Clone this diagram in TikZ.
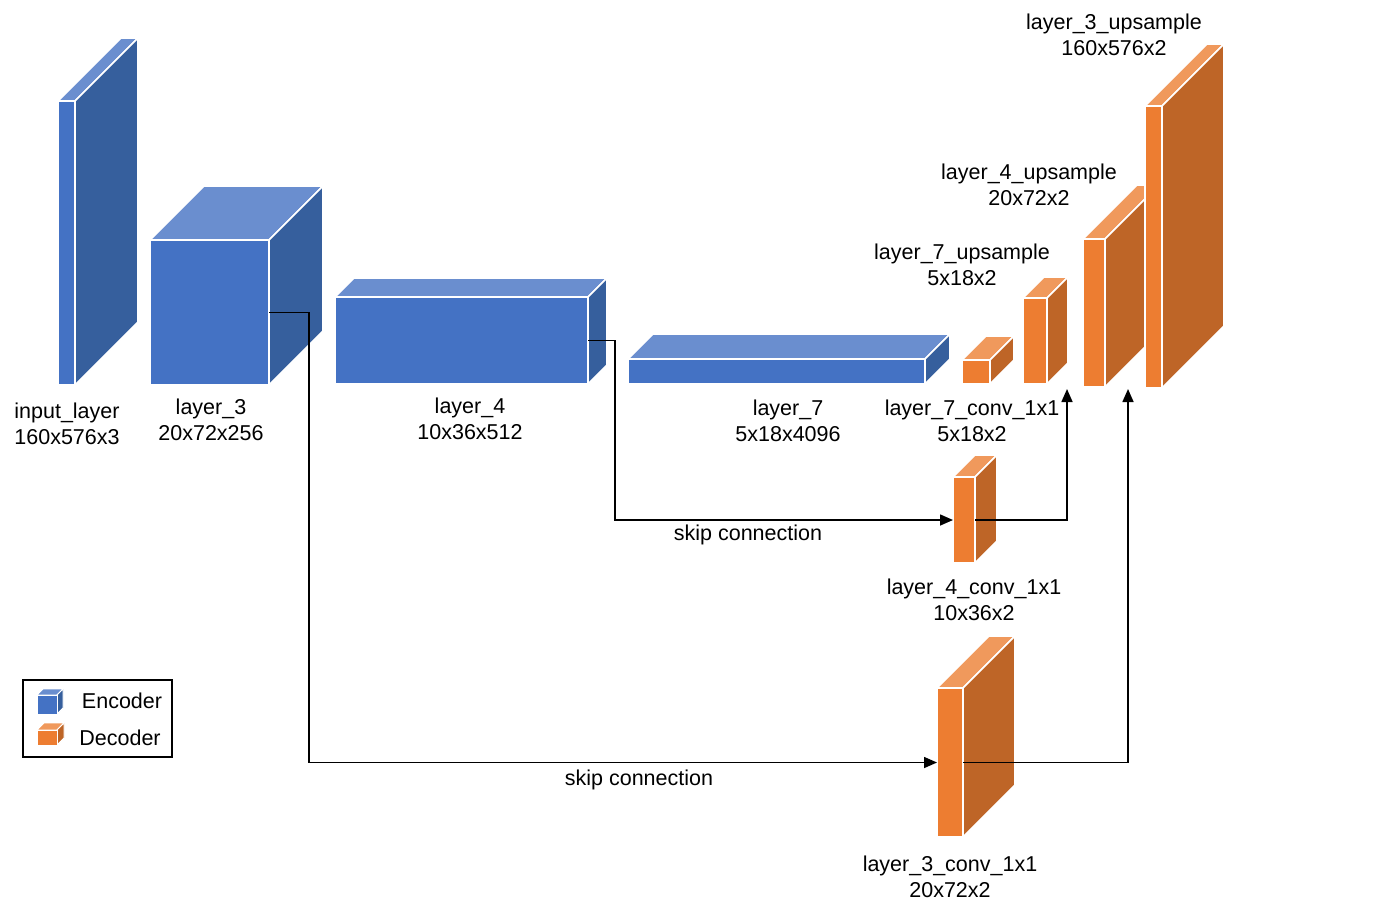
\documentclass[tikz,border=0pt]{standalone}
\usepackage{fontspec}
\setmainfont{Liberation Sans}
\usetikzlibrary{calc,arrows.meta}
\definecolor{encfront}{HTML}{4472C4}
\definecolor{enctop}{HTML}{6A8ECF}
\definecolor{encside}{HTML}{365F9D}
\definecolor{decfront}{HTML}{ED7D31}
\definecolor{dectop}{HTML}{F0995C}
\definecolor{decside}{HTML}{BE6527}
\tikzset{
  face/.style={draw=white, line width=1.6pt, line join=miter},
  lbl/.style={font=\fontsize{21.5}{26}\selectfont, align=center, inner sep=0pt},
  conn/.style={draw=black, line width=1.6pt},
  arr/.style={conn, -{Triangle[length=13pt,width=11pt]}},
}
% #1 name, #2 left, #3 top, #4 right, #5 bottom, #6 depth, #7 palette
\newcommand{\cuboid}[7]{%
  \fill[#7top, face] (#2,#3) -- (#4,#3) -- ++(#6,-#6) -- ++({#2-#4},0) -- cycle;
  \fill[#7side, face] (#4,#3) -- ++(#6,-#6) -- ++(0,{#5-#3}) -- (#4,#5) -- cycle;
  \node[face, fill=#7front, inner sep=0pt, outer sep=0pt,
        minimum width={(#4-#2)*1pt}, minimum height={(#5-#3)*1pt},
        anchor=north west] (#1) at (#2,#3) {};
}
\begin{document}
\begin{tikzpicture}[x=1pt,y=-1pt]
\useasboundingbox (0,0) rectangle (1375,916);
% encoder
\cuboid{in}{58}{101}{75}{385}{63}{enc}
\cuboid{l3}{150}{240}{269}{385}{54}{enc}
\cuboid{l4}{335}{297}{588}{384}{19}{enc}
\cuboid{l7}{628}{359}{925}{384}{25}{enc}
% decoder
\cuboid{c7}{962}{360}{990}{384}{24}{dec}
\cuboid{u7}{1023}{298}{1047}{384}{21}{dec}
\cuboid{u4}{1083}{239}{1105}{387}{54}{dec}
\cuboid{u3}{1145}{106}{1162}{388}{62}{dec}
\cuboid{c4}{953}{477}{975}{563}{22}{dec}
\cuboid{c3}{937}{688}{963}{837}{52}{dec}
% labels
\node[lbl] (t-in) at (67,424) {input\_layer\\160x576x3};
\node[lbl] (t-l3) at (211,420) {layer\_3\\20x72x256};
\node[lbl] (t-l4) at (470,419) {layer\_4\\10x36x512};
\node[lbl] (t-l7) at (788,421) {layer\_7\\5x18x4096};
\node[lbl] (t-c7) at (972,421) {layer\_7\_conv\_1x1\\5x18x2};
\node[lbl] (t-c4) at (974,600) {layer\_4\_conv\_1x1\\10x36x2};
\node[lbl] (t-c3) at (950,877) {layer\_3\_conv\_1x1\\20x72x2};
\node[lbl] (t-u7) at (962,265) {layer\_7\_upsample\\5x18x2};
\node[lbl] (t-u4) at (1029,185) {layer\_4\_upsample\\20x72x2};
\node[lbl] (t-u3) at (1114,35) {layer\_3\_upsample\\160x576x2};
% connectors
\coordinate (u7in) at ($(u7.south east)+(20,5)$);
\coordinate (u4in) at ($(u4.south east)+(23,2)$);
\draw[arr] (l3.east) -- ++(40,0) |- (c3.west);
\draw[arr] (l4.east) -- ++(27,0) |- (c4.west);
\draw[arr] (c4.east) -| (u7in);
\draw[arr] (c3.east) -| (u4in);
\node[lbl] (s1) at (748,535) {skip connection};
\node[lbl] (s2) at (639,780) {skip connection};
% legend
\node[draw=black, line width=1.6pt, inner sep=0pt, outer sep=0pt,
      minimum width=149pt, minimum height=77pt, anchor=north west] (legend) at (23,680) {};
\begin{scope}[face/.append style={line width=0.8pt}]
\cuboid{le}{37}{695}{57}{714}{6}{enc}
\cuboid{ld}{37}{730}{57}{745}{7}{dec}
\end{scope}
\node[lbl] (t-le) at (122,701) {Encoder};
\node[lbl] (t-ld) at (120,738) {Decoder};
\end{tikzpicture}
\end{document}
